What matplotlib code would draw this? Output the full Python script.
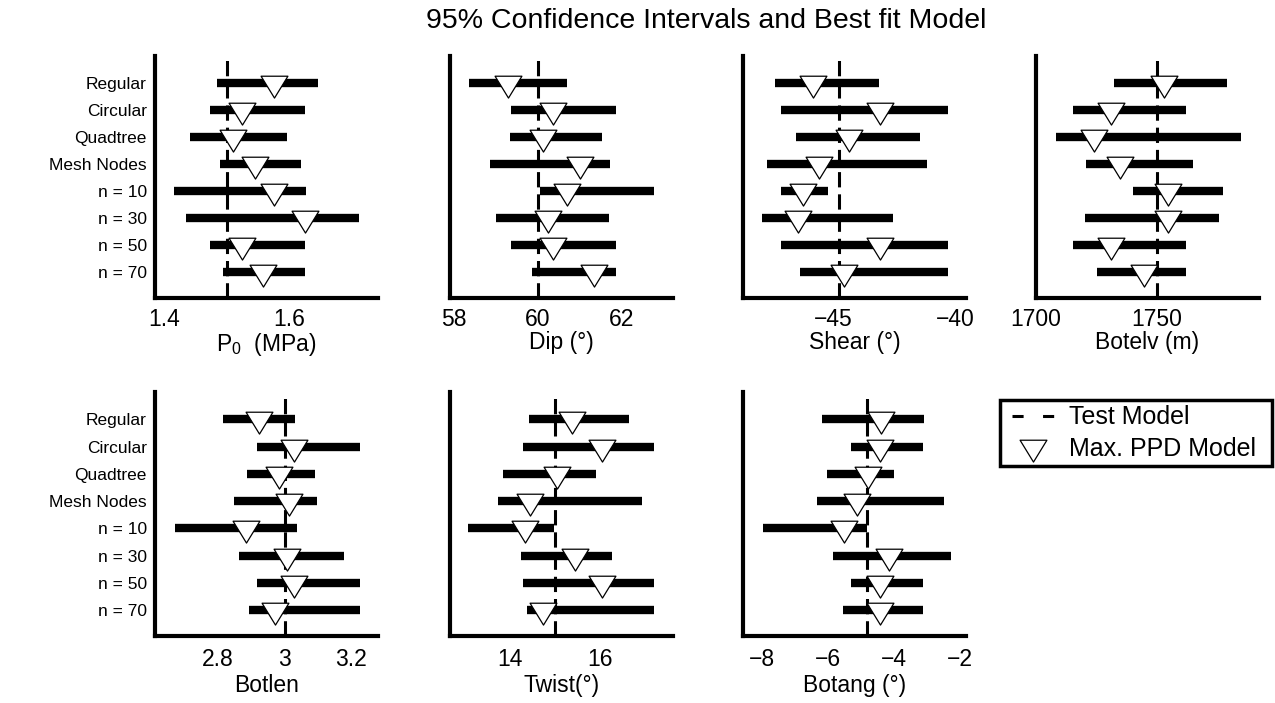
import matplotlib
matplotlib.use("Agg")
import matplotlib.pyplot as plt
from matplotlib.lines import Line2D
from matplotlib.path import Path
from matplotlib.transforms import ScaledTranslation
from matplotlib.legend_handler import HandlerLine2D

plt.rcParams['font.family'] = ['Liberation Sans', 'DejaVu Sans']
plt.rcParams['mathtext.fontset'] = 'custom'
plt.rcParams['mathtext.rm'] = 'Liberation Sans'
plt.rcParams['lines.scale_dashes'] = False

# ---------------- data ----------------
categories = ["Regular", "Circular", "Quadtree", "Mesh Nodes",
              "n = 10", "n = 30", "n = 50", "n = 70"]

p0_lo   = [1.485, 1.473, 1.441, 1.489, 1.417, 1.436, 1.473, 1.495]
p0_hi   = [1.646, 1.625, 1.596, 1.619, 1.626, 1.711, 1.625, 1.625]
p0_best = [1.576, 1.525, 1.510, 1.545, 1.575, 1.625, 1.525, 1.558]
p0_test = 1.5

dip_lo   = [58.36, 59.37, 59.35, 58.88, 60.05, 59.02, 59.37, 59.87]
dip_hi   = [60.70, 61.86, 61.53, 61.73, 62.76, 61.71, 61.86, 61.86]
dip_best = [59.30, 60.36, 60.13, 61.00, 60.71, 60.26, 60.36, 61.35]
dip_test = 60.0

shear_lo   = [-47.63, -47.40, -46.78, -47.97, -47.40, -48.18, -47.40, -46.60]
shear_hi   = [-43.38, -40.55, -41.70, -41.40, -45.47, -42.81, -40.55, -40.55]
shear_best = [-46.08, -43.32, -44.62, -45.85, -46.49, -46.71, -43.32, -44.82]
shear_test = -45.0

botelv_lo   = [1732.3, 1715.2, 1708.3, 1720.8, 1740.2, 1720.5, 1715.2, 1725.1]
botelv_hi   = [1779.4, 1762.3, 1785.2, 1765.2, 1777.7, 1775.9, 1762.3, 1762.3]
botelv_best = [1753.0, 1731.3, 1724.0, 1735.0, 1754.8, 1754.7, 1731.3, 1745.0]
botelv_test = 1750.0

botlen_lo   = [2.813, 2.917, 2.885, 2.847, 2.670, 2.863, 2.917, 2.893]
botlen_hi   = [3.032, 3.225, 3.090, 3.098, 3.037, 3.178, 3.225, 3.225]
botlen_best = [2.922, 3.027, 2.983, 3.013, 2.882, 3.008, 3.027, 2.972]
botlen_test = 3.0

twist_lo   = [14.42, 14.29, 13.85, 13.73, 13.07, 14.24, 14.29, 14.39]
twist_hi   = [16.66, 17.22, 15.93, 16.95, 14.98, 16.27, 17.22, 17.22]
twist_best = [15.39, 16.05, 15.05, 14.45, 14.33, 15.46, 16.05, 14.74]
twist_test = 15.0

botang_lo   = [-6.36, -5.49, -6.21, -6.52, -8.15, -6.03, -5.49, -5.73]
botang_hi   = [-3.26, -3.31, -4.18, -2.67, -5.00, -2.45, -3.31, -3.31]
botang_best = [-4.57, -4.60, -4.96, -5.29, -5.70, -4.34, -4.60, -4.59]
botang_test = -5.0

panel_xlabels = [r"P$_{\mathregular{0}}$  (MPa)", "Dip (°)", "Shear (°)", "Botelv (m)",
                 "Botlen", "Twist(°)", "Botang (°)"]
panel_xlims = [(1.386, 1.741), (57.92, 63.22), (-48.96, -39.8), (1700, 1792.5),
               (2.61, 3.28), (12.66, 17.64), (-8.75, -2.0)]
panel_xticks = [[1.4, 1.6], [58, 60, 62], [-45, -40], [1700, 1750],
                [2.8, 3.0, 3.2], [14, 16], [-8, -6, -4, -2]]
panel_xticklabels = [["1.4", "1.6"], ["58", "60", "62"], ["\u221245", "\u221240"],
                     ["1700", "1750"], ["2.8", "3", "3.2"], ["14", "16"],
                     ["\u22128", "\u22126", "\u22124", "\u22122"]]

panels = [
    (p0_lo, p0_hi, p0_best, p0_test),
    (dip_lo, dip_hi, dip_best, dip_test),
    (shear_lo, shear_hi, shear_best, shear_test),
    (botelv_lo, botelv_hi, botelv_best, botelv_test),
    (botlen_lo, botlen_hi, botlen_best, botlen_test),
    (twist_lo, twist_hi, twist_best, twist_test),
    (botang_lo, botang_hi, botang_best, botang_test),
]

# ---------------- figure ----------------
W, H = 1275, 703
fig = plt.figure(figsize=(W / 100, H / 100), dpi=100)

lefts_px = [155, 450, 743, 1036]
width_px = 223
rows_px = [(56, 298), (392, 636)]

tri = Path([(-1, 0.543), (1, 0.543), (0, -1.087), (-1, 0.543)],
           [Path.MOVETO, Path.LINETO, Path.LINETO, Path.CLOSEPOLY])

FS_Y = 12.5
FS_X = 16.5
DASH = (0, (11, 5))
ypos = list(range(len(categories)))

for i, (lo, hi, best, test) in enumerate(panels):
    r = 0 if i < 4 else 1
    c = i if i < 4 else i - 4
    top, bot = rows_px[r]
    ax = fig.add_axes([lefts_px[c] / W, 1 - bot / H, width_px / W, (bot - top) / H])
    ax.hlines(ypos, lo, hi, colors='black', linewidth=6, zorder=2)
    ax.axvline(test, color='black', linewidth=2.2, linestyle=DASH, zorder=1)
    ax.plot(best, ypos, linestyle='none', marker=tri, markersize=21,
            markerfacecolor='white', markeredgecolor='black', markeredgewidth=0.9, zorder=3)
    ax.set_xlim(*panel_xlims[i])
    ax.set_ylim(7.95, -1.0)
    ax.set_xticks(panel_xticks[i])
    ax.set_xticklabels(panel_xticklabels[i], fontsize=FS_X)
    ax.set_xlabel(panel_xlabels[i], fontsize=FS_X, labelpad=0 if r == 0 else 2)
    ax.tick_params(axis='x', length=0, pad=7 if r == 0 else 9)
    if c == 0:
        ax.set_yticks(ypos)
        ax.set_yticklabels(categories, fontsize=FS_Y)
        ax.tick_params(axis='y', length=0, pad=6)
    else:
        ax.set_yticks([])
    for s in ['top', 'right']:
        ax.spines[s].set_visible(False)
    for s in ['left', 'bottom']:
        ax.spines[s].set_linewidth(3)
    ax.patch.set_visible(False)
    if panel_xticklabels[i][0].startswith("\u2212"):
        off = ScaledTranslation(-6 / 100, 0, fig.dpi_scale_trans)
        for lab in ax.get_xticklabels():
            lab.set_transform(lab.get_transform() + off)

fig.text(706 / W, 1 - 8 / H, "95% Confidence Intervals and Best fit Model",
         fontsize=20.5, ha='center', va='top')

h_test = Line2D([], [], color='black', linewidth=2.2, linestyle=(0, (8, 14)))
h_best = Line2D([], [], linestyle='none', marker=tri, markersize=21,
                markerfacecolor='white', markeredgecolor='black', markeredgewidth=0.9)
leg = fig.legend([h_test, h_best], ["Test Model", "Max. PPD Model"], loc='upper left',
                 bbox_to_anchor=(1000 / W, 1 - 465 / H, 272 / W, 65 / H), mode='expand',
                 fontsize=18, frameon=True, fancybox=False, edgecolor='black', framealpha=1,
                 borderpad=0.21, handlelength=1.96, handletextpad=0.6, labelspacing=0.31,
                 borderaxespad=0,
                 handler_map={h_test: HandlerLine2D(xpad=0.28), h_best: HandlerLine2D(xpad=0.28)})
leg.get_frame().set_linewidth(2.5)

fig.savefig("out.png", dpi=100)
